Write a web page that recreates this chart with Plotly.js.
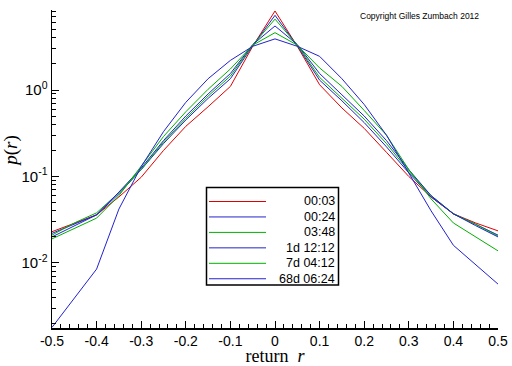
<!DOCTYPE html>
<html>
<head>
<meta charset="utf-8">
<script src="https://cdn.plot.ly/plotly-3.0.1.min.js"></script>
<style>html,body{margin:0;padding:0;background:#fff;}#chart{width:512px;height:366px;}</style>
</head>
<body>
<div id="chart"></div>
<script>
// return grid
const returns = [-0.5,-0.45,-0.4,-0.35,-0.3,-0.25,-0.2,-0.15,-0.1,-0.05,0,0.05,0.1,0.15,0.2,0.25,0.3,0.35,0.4,0.45,0.5];
// probability densities per time horizon
const p_0003 = [0.023,0.029,0.036,0.058,0.098,0.2,0.38,0.64,1.1,3.2,8.2,3.2,1.15,0.62,0.36,0.19,0.1,0.058,0.037,0.029,0.0235];
const p_0024 = [0.022,0.028,0.036,0.063,0.12,0.24,0.45,0.8,1.35,3.25,7.3,3.25,1.3,0.75,0.42,0.22,0.11,0.058,0.037,0.028,0.021];
const p_0348 = [0.021,0.029,0.038,0.065,0.12,0.25,0.47,0.85,1.45,3.3,6.6,3.3,1.4,0.8,0.46,0.24,0.115,0.06,0.037,0.028,0.0205];
const p_1d1212 = [0.020,0.027,0.036,0.066,0.125,0.26,0.5,0.9,1.55,3.35,5.5,3.35,1.55,0.88,0.5,0.26,0.12,0.06,0.037,0.027,0.020];
const p_7d0412 = [0.019,0.025,0.033,0.06,0.13,0.29,0.56,1.02,1.75,3.3,4.6,3.3,1.8,1.1,0.58,0.3,0.12,0.055,0.029,0.02,0.0138];
const p_68d0624 = [0.0018,0.0039,0.0085,0.042,0.13,0.33,0.72,1.35,2.2,3.2,3.9,3.2,2.45,1.35,0.68,0.3,0.11,0.04,0.016,0.0095,0.0057];

const seriesNames = ['00:03','00:24','03:48','1d 12:12','7d 04:12','68d 06:24'];
const seriesValues = [p_0003,p_0024,p_0348,p_1d1212,p_7d0412,p_68d0624];
const seriesColors = ['#e00000','#2222cc','#00b000','#2222cc','#00b000','#2222cc'];

const xTickVals = [-0.5,-0.4,-0.3,-0.2,-0.1,0,0.1,0.2,0.3,0.4,0.5];
const xTickText = ['-0.5','-0.4','-0.3','-0.2','-0.1','0','0.1','0.2','0.3','0.4','0.5'];
const yTickVals = [0.01,0.1,1];
const yTickText = ['10<sup>-2</sup>','10<sup>-1</sup>','10<sup>0</sup>'];
const yMinorVals = [];
[0.001,0.01,0.1,1].forEach(d => { for (let k = 2; k <= 9; k++) yMinorVals.push(d*k); });

const traces = seriesValues.map((v,i) => ({
  x: returns, y: v, type: 'scatter', mode: 'lines', name: seriesNames[i],
  line: {color: seriesColors[i], width: 1}, showlegend: false
}));

// plot area in px
const L = 52, R = 498, T = 10, B = 328;
const px2x = px => (px - L) / (R - L);
const px2y = py => (B - py) / (B - T);

const shapes = [];
const annotations = [];
// manual legend box
shapes.push({type:'rect', xref:'paper', yref:'paper', x0:px2x(206.5), x1:px2x(338.5), y0:px2y(285), y1:px2y(187.5),
  line:{color:'black', width:1.5}, fillcolor:'white', layer:'above'});
const rowY0 = 201.5, rowDy = 15.45;
seriesNames.forEach((n,i) => {
  const py = rowY0 + i*rowDy;
  shapes.push({type:'line', xref:'paper', yref:'paper', x0:px2x(209), x1:px2x(266), y0:px2y(py), y1:px2y(py),
    line:{color:seriesColors[i], width:1}, layer:'above'});
  annotations.push({xref:'paper', yref:'paper', x:px2x(337), y:px2y(py), xanchor:'right', yanchor:'middle',
    text:n, showarrow:false, font:{family:'Liberation Sans, Arial, sans-serif', size:12.5, color:'black'}});
});
annotations.push({xref:'paper', yref:'paper', x:px2x(358), y:px2y(16), xanchor:'left', yanchor:'middle',
  text:'Copyright Gilles Zumbach 2012', showarrow:false, font:{family:'Liberation Sans, Arial, sans-serif', size:8.5, color:'black'}});

const layout = {
  width: 512, height: 366,
  margin: {l: L, r: 512 - R, t: T, b: 366 - B},
  paper_bgcolor: 'white', plot_bgcolor: 'white',
  showlegend: false,
  font: {family: 'Liberation Sans, Arial, sans-serif', size: 14, color: 'black'},
  xaxis: {
    range: [-0.5, 0.5], tickmode: 'array', tickvals: xTickVals, ticktext: xTickText,
    ticks: 'inside', ticklen: 7, tickcolor: 'black', tickwidth: 1,
    showline: true, linecolor: 'black', linewidth: 1.5, showgrid: false, zeroline: false,
    minor: {dtick: 0.02, tick0: 0, ticks: 'inside', ticklen: 4, tickcolor: 'black', tickwidth: 1, showgrid: false},
    tickfont: {family: 'Liberation Sans, Arial, sans-serif', size: 14},
    title: {text: 'return  <i>r</i>', font: {family: 'Liberation Serif, Times New Roman, serif', size: 18}, standoff: 0}
  },
  yaxis: {
    type: 'log', range: [Math.log10(0.00177), 0.925],
    tickmode: 'array', tickvals: yTickVals, ticktext: yTickText,
    ticks: 'inside', ticklen: 7, tickcolor: 'black', tickwidth: 1,
    showline: true, linecolor: 'black', linewidth: 1.5, showgrid: false, zeroline: false,
    minor: {tickmode: 'array', tickvals: yMinorVals, ticks: 'inside', ticklen: 4, tickcolor: 'black', tickwidth: 1, showgrid: false},
    tickfont: {family: 'Liberation Sans, Arial, sans-serif', size: 15},
    title: {text: '&nbsp;&nbsp;&nbsp;&nbsp;&nbsp;&nbsp;&nbsp;&nbsp;<i>p</i>(<i>r</i>)', font: {family: 'Liberation Serif, Times New Roman, serif', size: 19}, standoff: 2}
  },
  shapes: shapes,
  annotations: annotations
};

Plotly.newPlot('chart', traces, layout, {displayModeBar: false, staticPlot: true});
</script>
</body>
</html>
